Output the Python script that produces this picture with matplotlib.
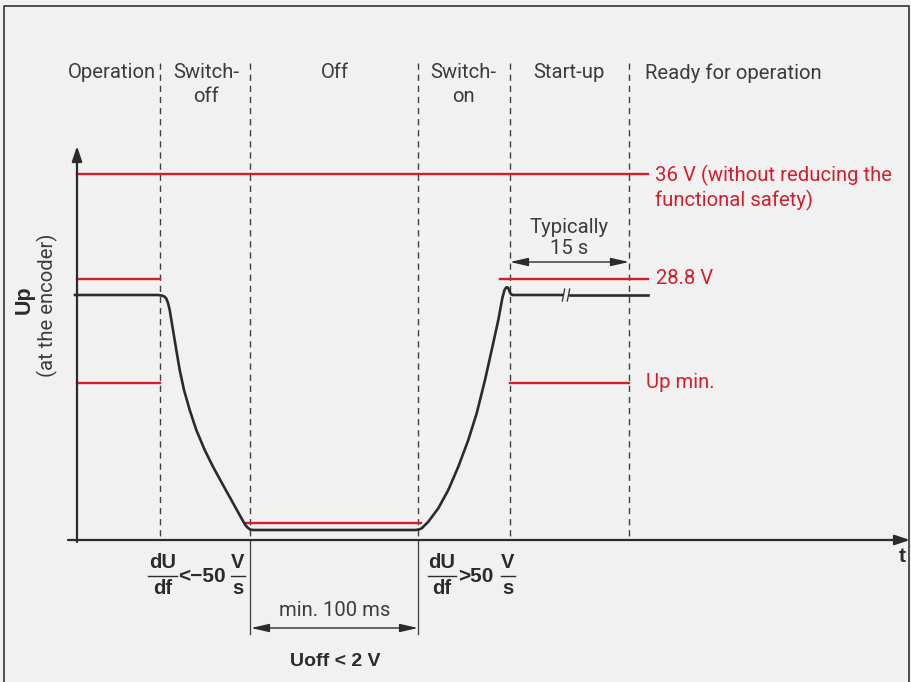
import matplotlib
matplotlib.use("Agg")
import matplotlib.pyplot as plt
import numpy as np

# ---------------- data (schematic, in drawing units) ----------------
phase_labels = ["Operation", "Switch-\noff", "Off", "Switch-\non", "Start-up", "Ready for operation"]
phase_label_x = [112, 206, 335, 463, 569, 645]
phase_bounds = [160, 250, 418, 510, 629]

# reference levels (y in drawing units, top = small)
level_36v = 174
level_288v = 279
level_upmin = 383
level_uoff = 523
level_signal = 295
level_zero = 540

# signal curve (Up at the encoder)
signal_x = [75, 158, 162, 164.5, 166.3, 168, 169.7, 173, 176.3, 179.7, 184, 189.7, 196.3, 204.7, 213,
            223, 233, 241.3, 245.3, 248, 250.5, 253, 415, 418.5, 421.7, 428.3, 438.3, 448.3, 458.3,
            468.3, 476.7, 485, 491.7, 498.3, 502.3, 504.5, 506, 507.3, 508.5, 509.5, 511, 513, 562]
signal_y = [295, 295, 295.6, 296.6, 298.5, 303, 310, 330, 350, 370, 390, 410, 430, 450, 466.7,
            485, 503, 518, 525, 528, 529.6, 530, 530, 529.6, 528.3, 521.7, 508.3, 490, 466.7,
            440, 413.3, 380, 350, 320, 298.3, 290, 287.6, 287.3, 288.5, 291.5, 294.3, 295, 295]
signal_tail_x = [570, 648]

red_color = "#d41e2c"
dark = "#2b2b2b"
text_col = "#3c3c3c"
bg = "#f1f1f1"

FS = 14.6
regular = dict(family=["Roboto", "DejaVu Sans"], fontweight="normal")
light = dict(color=text_col, **regular)
redtxt = dict(color=red_color, **regular)
bold = dict(family=["Liberation Sans", "DejaVu Sans"], fontweight="bold", color=dark)

fig = plt.figure(figsize=(9.12, 6.82), dpi=100)
fig.patch.set_facecolor(bg)
ax = fig.add_axes([0, 0, 1, 1])
ax.set_xlim(0, 912)
ax.set_ylim(682, 0)
ax.axis("off")
ax.set_facecolor(bg)

# frame
ax.plot([4, 4, 909, 909], [690, 6, 6, 690], color="#333333", lw=1.2, solid_capstyle="butt")

# phase boundary dashed lines
for xb in phase_bounds:
    ax.plot([xb, xb], [63, level_zero], color="#404040", lw=1.0, ls=(0, (4.5, 3.5)))
# extension lines for the 100 ms dimension
for xb in phase_bounds[1:3]:
    ax.plot([xb, xb], [level_zero, 634], color="#404040", lw=0.9)

# axes with arrows
ax.annotate("", xy=(77, 146), xytext=(77, level_zero + 2),
            arrowprops=dict(arrowstyle="-|>,head_length=0.9,head_width=0.3", color=dark, lw=1.6,
                            shrinkA=0, shrinkB=0))
ax.annotate("", xy=(910, level_zero), xytext=(68, level_zero),
            arrowprops=dict(arrowstyle="-|>,head_length=0.9,head_width=0.3", color=dark, lw=1.6,
                            shrinkA=0, shrinkB=0))

# red reference lines
ax.plot([77, 648], [level_36v, level_36v], color=red_color, lw=1.7)
ax.plot([77, 160], [level_288v, level_288v], color=red_color, lw=1.7)
ax.plot([500, 648], [level_288v, level_288v], color=red_color, lw=1.7)
ax.plot([77, 160], [level_upmin, level_upmin], color=red_color, lw=1.7)
ax.plot([510, 629], [level_upmin, level_upmin], color=red_color, lw=1.7)
ax.plot([246, 421], [level_uoff, level_uoff], color=red_color, lw=1.7)

# signal
ax.plot(signal_x, signal_y, color=dark, lw=1.9, solid_joinstyle="round")
ax.plot(signal_tail_x, [level_signal, level_signal], color=dark, lw=1.9)
# break mark
for bx in [563.5, 568.5]:
    ax.plot([bx - 1.2, bx + 1.2], [301, 289], color=dark, lw=0.9)

# phase labels
for lab, xl in zip(phase_labels, phase_label_x):
    ha = "left" if lab.startswith("Ready") else "center"
    ax.text(xl, 63, lab, ha=ha, va="top", fontsize=FS, linespacing=1.3, **light)

# right-hand labels
ax.text(655, 188, "36 V (without reducing the\nfunctional safety)", ha="left", va="center",
        fontsize=FS, linespacing=1.2, **redtxt)
ax.text(656, 278, "28.8 V", ha="left", va="center", fontsize=FS, **redtxt)
ax.text(646, 383, "Up min.", ha="left", va="center", fontsize=FS, **redtxt)

# typically 15 s
ax.text(569, 238, "Typically\n15 s", ha="center", va="center", fontsize=FS, linespacing=1.15, **light)
ax.annotate("", xy=(510, 262), xytext=(629, 262),
            arrowprops=dict(arrowstyle="<|-|>,head_length=1.1,head_width=0.25", color=dark, lw=1.0,
                            shrinkA=0, shrinkB=0))

# min 100 ms
ax.text(335, 611, "min. 100 ms", ha="center", va="center", fontsize=FS, **light)
ax.annotate("", xy=(251, 628), xytext=(418, 628),
            arrowprops=dict(arrowstyle="<|-|>,head_length=1.1,head_width=0.25", color=dark, lw=1.0,
                            shrinkA=0, shrinkB=0))
ax.text(335, 661, "Uoff < 2 V", ha="center", va="center", fontsize=14, **bold)

# y label
ax.text(24, 300, "Up", rotation=90, ha="center", va="center", fontsize=15.5, **bold)
ax.text(47, 305, "(at the encoder)", rotation=90, ha="center", va="center", fontsize=FS, **light)

# t label
ax.text(902, 556, "t", ha="center", va="center", fontsize=15, **bold)

# slope fractions
def frac(xc, top, bottom, x0, x1):
    ax.text(xc, 563, top, ha="center", va="center", fontsize=14.5, **bold)
    ax.text(xc, 588, bottom, ha="center", va="center", fontsize=14.5, **bold)
    ax.plot([x0, x1], [576, 576], color=dark, lw=1.0)

frac(163, "dU", "df", 148, 177)
ax.text(202, 576, "<\u221250", ha="center", va="center", fontsize=15, **bold)
frac(238, "V", "s", 231, 245)

frac(442, "dU", "df", 428, 456)
ax.text(476, 576, ">50", ha="center", va="center", fontsize=15, **bold)
frac(508, "V", "s", 501, 515)

fig.savefig("out.png", dpi=100, facecolor=bg)
